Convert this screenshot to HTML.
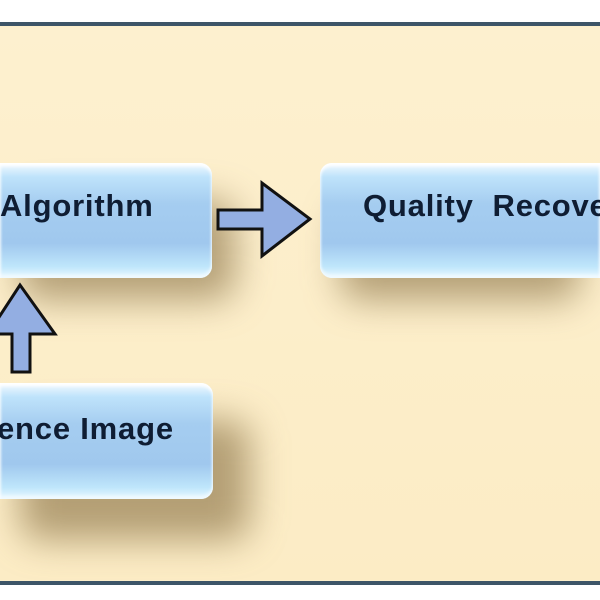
<!DOCTYPE html>
<html><head><style>
html,body{margin:0;padding:0;width:600px;height:600px;overflow:hidden;background:#fff;}
#w{position:relative;width:600px;height:600px;overflow:hidden;}
.bg{position:absolute;left:0;top:22px;width:600px;height:563px;background:#fdefcb;border-top:4px solid #3d5568;border-bottom:4px solid #3d5568;box-sizing:border-box;}
.inner{position:absolute;left:0;top:27px;width:600px;height:553px;background:linear-gradient(#fdf0cf,#fcecc5);}
.sh{position:absolute;background:rgba(120,95,50,0.55);filter:blur(18px);border-radius:20px;}
.box{position:absolute;border-radius:12px;background:linear-gradient(#f4fbff 0%,#bfe3fb 12%,#a5cdf0 35%,#a0c8ee 70%,#bfe6fb 90%,#eaf8ff 100%);box-shadow:inset 0 3px 3px #fff, inset 0 -3px 3px #f0faff;font-family:"Liberation Sans",sans-serif;font-weight:bold;font-size:31px;color:#0f1d33;white-space:nowrap;letter-spacing:0.8px;overflow:hidden;}
.box span{position:absolute;}
</style></head><body><div id="w">
<div class="bg"></div>
<div class="inner"></div>
<div class="sh" style="left:20px;top:200px;width:215px;height:100px;"></div>
<div class="sh" style="left:340px;top:205px;width:240px;height:95px;"></div>
<div class="sh" style="left:20px;top:420px;width:230px;height:120px;"></div>
<div class="box" style="left:0;top:163px;width:212px;height:115px;border-radius:0 12px 12px 0;"><span style="left:0px;top:25px;">Algorithm</span></div>
<div class="box" style="left:320px;top:163px;width:280px;height:115px;border-radius:12px 0 0 12px;"><span style="left:43px;top:25px;">Quality&nbsp; Recovery</span></div>
<div class="box" style="left:0;top:383px;width:213px;height:116px;border-radius:0 12px 12px 0;"><span style="left:-3px;top:28px;">ence Image</span></div>
<svg width="600" height="600" style="position:absolute;left:0;top:0">
<polygon points="218,210 262,210 262,183 310,219 262,256 262,229 218,229" fill="#93aee2" stroke="#111" stroke-width="3" stroke-linejoin="miter"/>
<polygon points="12,372 12,334 -12,334 20,285 55,334 30,334 30,372" fill="#93aee2" stroke="#111" stroke-width="3"/>
</svg>
</div></body></html>
